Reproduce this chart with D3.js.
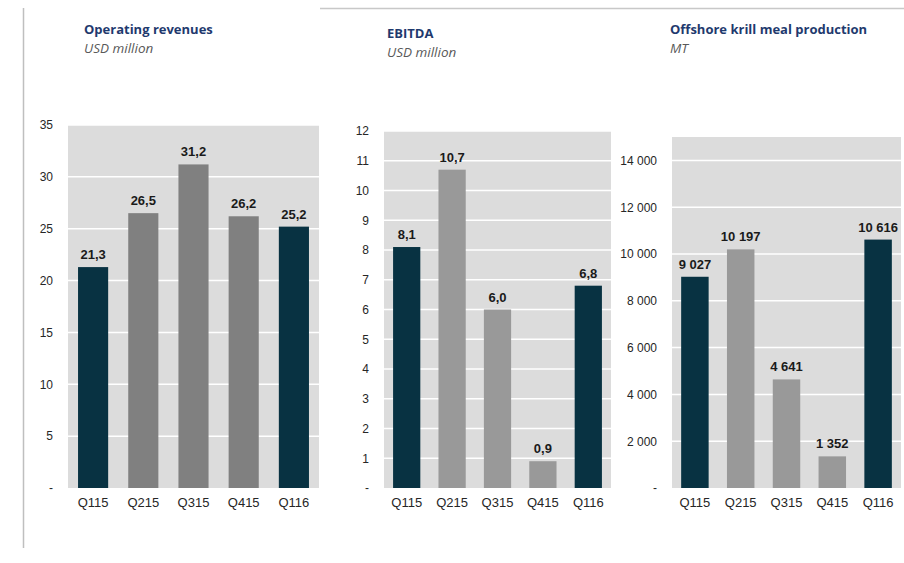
<!DOCTYPE html>
<html>
<head>
<meta charset="utf-8">
<script src="https://cdn.jsdelivr.net/npm/d3@7"></script>
<style>
  body { margin: 0; background: #fff; }
  svg { display: block; }
</style>
</head>
<body>
<div class="charts"></div>
<script>

// data
var quarters = ["Q115", "Q215", "Q315", "Q415", "Q116"];
var revenues = [21.3, 26.5, 31.2, 26.2, 25.2];
var ebitda = [8.1, 10.7, 6.0, 0.9, 6.8];
var krillMeal = [9027, 10197, 4641, 1352, 10616];
var darkQuarters = ["Q115", "Q116"];

var revenueTicks = [0, 5, 10, 15, 20, 25, 30, 35];
var ebitdaTicks = [0, 1, 2, 3, 4, 5, 6, 7, 8, 9, 10, 11, 12];
var krillTicks = [0, 2000, 4000, 6000, 8000, 10000, 12000, 14000];

// norwegian style numbers: 21,3 and 10 616
var locale = d3.formatLocale({ decimal: ",", thousands: " ", grouping: [3], currency: ["", ""] });

var svg = d3.select(".charts")
	.append("svg")
	.attr("width", 904)
	.attr("height", 563);

// frame lines
svg.append("line")
	.attr("x1", 23.5).attr("x2", 23.5)
	.attr("y1", 8).attr("y2", 548)
	.style("stroke", "#bfbfbf")
	.style("stroke-width", 1.5);

svg.append("line")
	.attr("x1", 320).attr("x2", 904)
	.attr("y1", 8.5).attr("y2", 8.5)
	.style("stroke", "#c8c8c8")
	.style("stroke-width", 1.5);

var panels = [
	{ title: "Operating revenues", unit: "USD million", tx: 84, ty: 34,
	  values: revenues, ticks: revenueTicks, max: 35, fmt: locale.format(",.1f"), tickFmt: locale.format(","),
	  left: 68, right: 319, top: 125, grey: "#808080" },
	{ title: "EBITDA", unit: "USD million", tx: 387, ty: 38,
	  values: ebitda, ticks: ebitdaTicks, max: 12, fmt: locale.format(",.1f"), tickFmt: locale.format(","),
	  left: 384, right: 611, top: 131, grey: "#999999" },
	{ title: "Offshore krill meal production", unit: "MT", tx: 670, ty: 34,
	  values: krillMeal, ticks: krillTicks, max: 15000, fmt: locale.format(",.0f"), tickFmt: locale.format(","),
	  left: 672, right: 901, top: 137, grey: "#999999" }
];

var bottom = 488;

panels.forEach(function(p) {

	var g = svg.append("g");

	// title + unit
	g.append("text")
		.attr("x", p.tx)
		.attr("y", p.ty)
		.style("font-family", "'Open Sans', sans-serif")
		.style("font-weight", "bold")
		.style("font-size", "13px")
		.style("fill", "#1f3a6e")
		.text(p.title);

	g.append("text")
		.attr("x", p.tx)
		.attr("y", p.ty + 19)
		.style("font-family", "'Open Sans', sans-serif")
		.style("font-style", "italic")
		.style("font-size", "13.5px")
		.style("fill", "#595959")
		.text(p.unit);

	var x = d3.scaleBand()
		.domain(quarters)
		.range([p.left, p.right])
		.paddingInner(0.4)
		.paddingOuter(0.2);

	var y = d3.scaleLinear()
		.domain([0, p.max])
		.range([bottom, p.top]);

	// plot background
	g.append("rect")
		.attr("x", p.left)
		.attr("y", p.top)
		.attr("width", p.right - p.left)
		.attr("height", bottom - p.top)
		.style("fill", "#dcdcdc");

	// white grid lines
	g.append("g")
		.selectAll("line")
		.data(p.ticks.filter(t => t > 0))
		.join("line")
		.attr("x1", p.left)
		.attr("x2", p.right)
		.attr("y1", d => y(d))
		.attr("y2", d => y(d))
		.style("stroke", "#ffffff")
		.style("stroke-width", 1.5);

	// y axis, no line
	var yAxis = g.append("g")
		.attr("transform", "translate(" + (p.left - 12) + ",0)")
		.call(d3.axisLeft(y).tickValues(p.ticks).tickSize(0)
			.tickFormat(d => d === 0 ? "-" : p.tickFmt(d)));

	yAxis.select(".domain").remove();
	yAxis.selectAll("text")
		.style("font-family", "'Liberation Sans', Arial, sans-serif")
		.style("font-size", "12px")
		.style("fill", "#262626");

	// x axis
	var xAxis = g.append("g")
		.attr("transform", "translate(0," + bottom + ")")
		.call(d3.axisBottom(x).tickSize(0).tickPadding(10));

	xAxis.select(".domain").remove();
	xAxis.selectAll("text")
		.style("font-family", "'Liberation Sans', Arial, sans-serif")
		.style("font-size", "13px")
		.style("fill", "#262626");

	var rows = quarters.map((q, i) => ({ q: q, v: p.values[i] }));

	// bars
	g.append("g")
		.selectAll("rect")
		.data(rows)
		.join("rect")
		.attr("x", d => x(d.q))
		.attr("y", d => y(d.v))
		.attr("width", x.bandwidth())
		.attr("height", d => bottom - y(d.v))
		.style("fill", d => darkQuarters.includes(d.q) ? "#083242" : p.grey);

	// value labels
	g.append("g")
		.selectAll("text")
		.data(rows)
		.join("text")
		.attr("x", d => x(d.q) + x.bandwidth() / 2)
		.attr("y", d => y(d.v) - 8)
		.attr("text-anchor", "middle")
		.style("font-family", "'Liberation Sans', Arial, sans-serif")
		.style("font-weight", "bold")
		.style("font-size", "13px")
		.style("fill", "#1a1a1a")
		.text(d => p.fmt(d.v));
});

</script>
</body>
</html>
